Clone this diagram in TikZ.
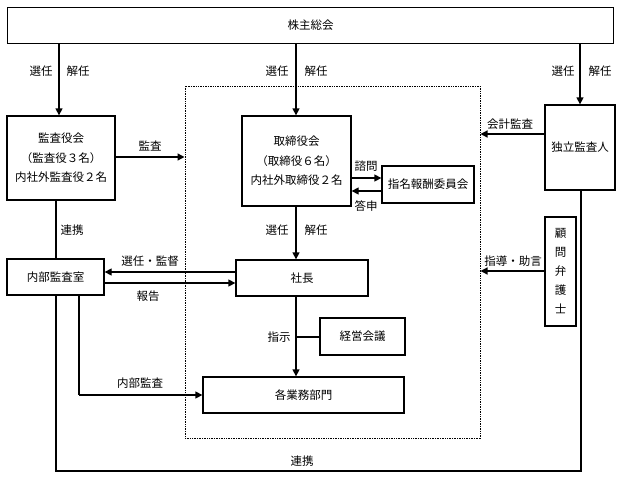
\documentclass[tikz,border=0pt]{standalone}
\usepackage{fontspec}
\newfontfamily\jp{Noto Sans CJK JP}
\usetikzlibrary{arrows.meta}
\begin{document}
\begin{tikzpicture}[x=1pt,y=-1pt,
  box/.style={draw, line width=1.3pt, inner sep=0pt, font=\jp\fontsize{11.5}{19.5}\selectfont, align=center},
  lbl/.style={font=\jp\fontsize{11.5}{13}\selectfont, inner sep=0pt},
  arr/.style={line width=1.3pt, -{Triangle[length=7pt,width=7pt]}},
  ln/.style={line width=1.3pt}]
\useasboundingbox (0,0) rectangle (623,479);
\node[draw, dash pattern=on 1pt off 0.7pt, line width=1pt, minimum width=295pt, minimum height=352pt, inner sep=0pt] (ctrl) at (332.5,262) {};
\node[box, minimum width=606pt, minimum height=36pt] (sh) at (310.5,25.5) {株主総会};
\node[box, minimum width=108pt, minimum height=84pt] (kansa) at (61,158) {監査役会\\（監査役３名）\\内社外監査役２名};
\node[box, minimum width=109pt, minimum height=90pt] (tori) at (296.5,161) {取締役会\\（取締役６名）\\内社外取締役２名};
\node[box, minimum width=70pt, minimum height=85pt] (dok) at (580,147.5) {独立監査人};
\node[box, minimum width=92pt, minimum height=37pt] (shimei) at (428,184.5) {指名報酬委員会};
\node[box, minimum width=97pt, minimum height=36pt] (naibu) at (55.5,277) {内部監査室};
\node[box, minimum width=132pt, minimum height=36pt] (shacho) at (302,278) {社長};
\node[box, minimum width=85pt, minimum height=37pt] (keiei) at (362.5,336.5) {経営会議};
\node[box, minimum width=201pt, minimum height=36pt] (kakugyo) at (303.5,395) {各業務部門};
\node[box, minimum width=31pt, minimum height=109pt, font=\jp\fontsize{11.5}{19}\selectfont] (komon) at (560.5,271.5) {顧\\問\\弁\\護\\士};
% arrows from shareholders meeting
\draw[arr] (sh.south -| 59,0) -- (kansa.north -| 59,0);
\draw[arr] (sh.south -| 296,0) -- (tori.north -| 296,0);
\draw[arr] (sh.south -| 580,0) -- (dok.north -| 580,0);
\node[lbl] (l1) at (41,71) {選任};
\node[lbl] (l2) at (78,71) {解任};
\node[lbl] (l3) at (277,71) {選任};
\node[lbl] (l4) at (316,71) {解任};
\node[lbl] (l5) at (563,71) {選任};
\node[lbl] (l6) at (600,71) {解任};
% audit
\draw[arr] (kansa.east |- 0,157) -- (ctrl.west |- 0,157);
\node[lbl] (l7) at (150,146) {監査};
\draw[arr] (dok.west |- 0,134) -- (ctrl.east |- 0,134);
\node[lbl] (l8) at (510,124) {会計監査};
% committee
\draw[arr] (tori.east |- 0,178) -- (shimei.west |- 0,178);
\draw[arr] (shimei.west |- 0,191) -- (tori.east |- 0,191);
\node[lbl] (l9) at (366,166) {諮問};
\node[lbl] (l10) at (366,206) {答申};
% board to president
\draw[arr] (tori.south -| 296,0) -- (shacho.north -| 296,0);
\node[lbl] (l11) at (277,230) {選任};
\node[lbl] (l12) at (316,230) {解任};
% cooperation audit board - internal audit
\draw[ln] (kansa.south -| 56,0) -- (naibu.north -| 56,0);
\node[lbl] (l13) at (72,230) {連携};
% president - internal audit
\draw[arr] (shacho.west |- 0,272) -- (naibu.east |- 0,272);
\draw[arr] (naibu.east |- 0,283) -- (shacho.west |- 0,283);
\node[lbl] (l14) at (150,261) {選任・監督};
\node[lbl] (l15) at (148,296) {報告};
% president to departments
\draw[arr] (shacho.south -| 296,0) -- (kakugyo.north -| 296,0);
\coordinate (br) at (296,337);
\draw[ln] (br) -- (keiei.west |- br);
\node[lbl] (l16) at (279,337) {指示};
% internal audit
\coordinate (ia) at (79,395);
\draw[ln] (naibu.south -| ia) -- (ia);
\draw[arr] (ia) -- (kakugyo.west |- ia);
\node[lbl] (l17) at (140,383) {内部監査};
% bottom cooperation
\coordinate (c1) at (56,471);
\coordinate (c2) at (581,471);
\draw[ln] (naibu.south -| c1) -- (c1) -- (c2) -- (dok.south -| c2);
\node[lbl] (l18) at (302,461) {連携};
% lawyer
\draw[arr] (komon.west |- 0,271) -- (ctrl.east |- 0,271);
\node[lbl] (l19) at (513,261) {指導・助言};
\end{tikzpicture}
\end{document}
